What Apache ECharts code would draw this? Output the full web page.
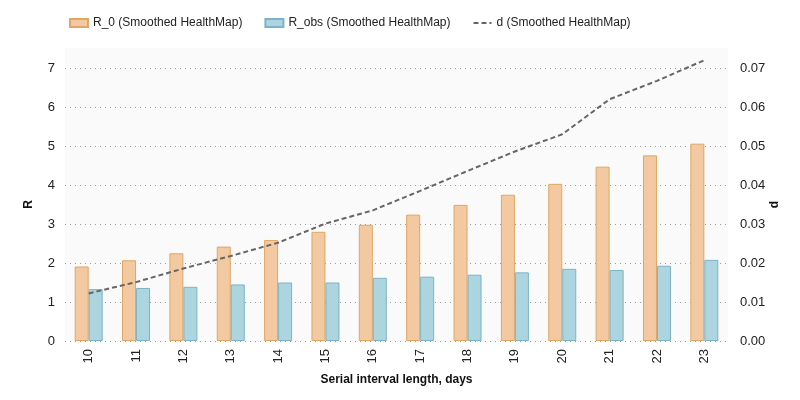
<!DOCTYPE html>
<html>
<head>
    <meta charset="utf-8">
    <title>R and d by serial interval</title>
    <script src="https://cdn.jsdelivr.net/npm/echarts@6/dist/echarts.min.js"></script>
    <style>
        html, body { margin: 0; padding: 0; background: #fff; }
        #chart { width: 800px; height: 400px; }
    </style>
</head>
<body>
<div id="chart"></div>
<script>
    // serial interval lengths (days)
    var days = ['10', '11', '12', '13', '14', '15', '16', '17', '18', '19', '20', '21', '22', '23'];
    var r0 = [1.91, 2.07, 2.25, 2.42, 2.59, 2.80, 2.98, 3.24, 3.49, 3.75, 4.03, 4.47, 4.76, 5.06];
    var rObs = [1.33, 1.36, 1.39, 1.45, 1.50, 1.50, 1.62, 1.65, 1.70, 1.76, 1.85, 1.82, 1.93, 2.08];
    var d = [0.0122, 0.0151, 0.0186, 0.0218, 0.0252, 0.0301, 0.0335, 0.0385, 0.0436, 0.0486, 0.0530, 0.0620, 0.0667, 0.0720];

    var font = 'Liberation Sans, sans-serif';
    var chart = echarts.init(document.getElementById('chart'));

    chart.setOption({
        animation: false,
        textStyle: { fontFamily: font },
        // light plot background, a bit taller than the value range
        graphic: [{
            type: 'rect',
            z: -10,
            silent: true,
            shape: { x: 65, y: 48, width: 663, height: 293 },
            style: { fill: '#fafafa' }
        }],
        legend: {
            top: 12,
            left: 64,
            itemWidth: 18,
            itemHeight: 8,
            itemGap: 22,
            textStyle: { fontSize: 12, color: '#222', fontFamily: font },
            data: [
                { name: 'R_0 (Smoothed HealthMap)', icon: 'rect' },
                { name: 'R_obs (Smoothed HealthMap)', icon: 'rect' },
                { name: 'd (Smoothed HealthMap)', itemStyle: { opacity: 0 } }
            ]
        },
        grid: {
            left: 65, right: 72, top: 68, bottom: 59
        },
        xAxis: {
            type: 'category',
            data: days,
            name: 'Serial interval length, days',
            nameLocation: 'middle',
            nameGap: 33,
            nameTextStyle: { fontSize: 12, fontWeight: 'bold', color: '#111', fontFamily: font },
            axisLine: { show: false },
            axisTick: { show: false },
            axisLabel: { rotate: 90, fontSize: 13, color: '#222', margin: 8, fontFamily: font }
        },
        yAxis: [{
            type: 'value',
            min: 0, max: 7, interval: 1,
            name: 'R',
            nameLocation: 'middle',
            nameGap: 30,
            nameMoveOverlap: false,
            nameTextStyle: { fontSize: 12, fontWeight: 'bold', color: '#111', fontFamily: font },
            axisLabel: { fontSize: 13, color: '#222', margin: 10, fontFamily: font },
            splitLine: { lineStyle: { type: [1, 4], color: '#999' } }
        }, {
            type: 'value',
            min: 0, max: 0.07, interval: 0.01,
            name: 'd',
            nameLocation: 'middle',
            nameGap: 41,
            nameMoveOverlap: false,
            nameTextStyle: { fontSize: 12, fontWeight: 'bold', color: '#111', fontFamily: font },
            axisLabel: {
                fontSize: 13, color: '#222', margin: 12, fontFamily: font,
                formatter: function (v) { return v.toFixed(2); }
            },
            splitLine: { show: false }
        }],
        series: [{
            name: 'R_0 (Smoothed HealthMap)',
            type: 'bar',
            data: r0,
            barWidth: 14,
            barGap: '0%',
            itemStyle: { color: '#f2c9a0', borderColor: '#e0a664', borderWidth: 1 }
        }, {
            name: 'R_obs (Smoothed HealthMap)',
            type: 'bar',
            data: rObs,
            barWidth: 14,
            itemStyle: { color: '#acd5e0', borderColor: '#7db3c6', borderWidth: 1 }
        }, {
            name: 'd (Smoothed HealthMap)',
            type: 'line',
            yAxisIndex: 1,
            data: d,
            symbol: 'none',
            clip: false,
            lineStyle: { color: '#666', width: 2, type: [5, 3] },
            itemStyle: { color: '#666' },
            z: 5
        }]
    });
</script>
</body>
</html>
